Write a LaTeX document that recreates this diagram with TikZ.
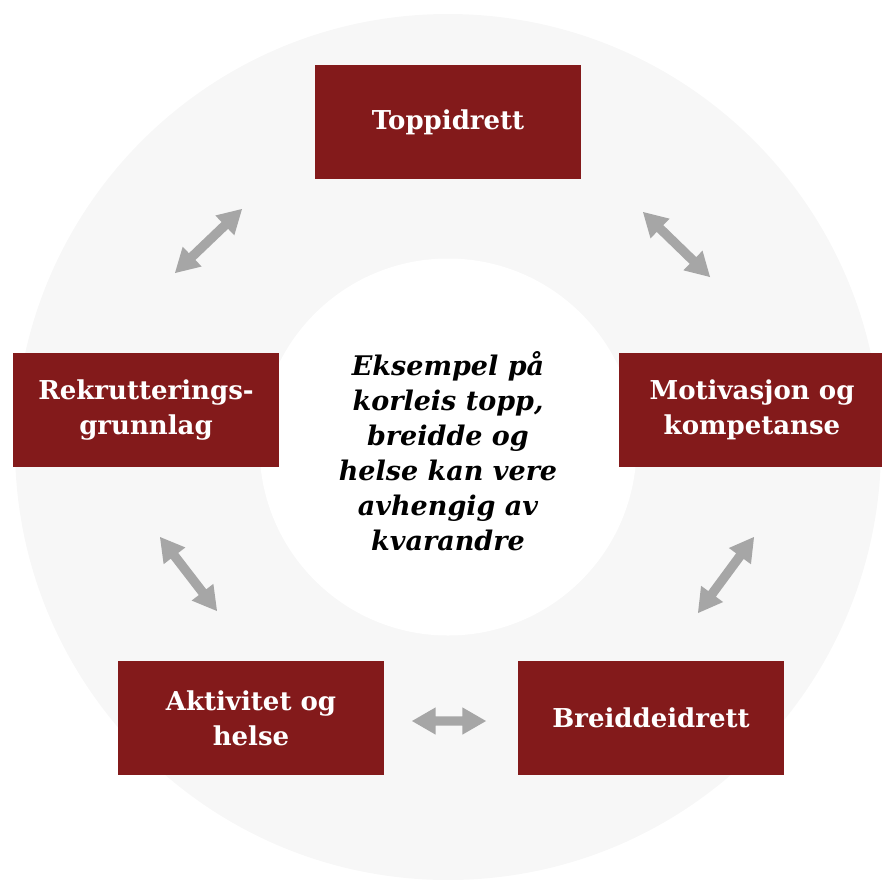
\documentclass[tikz,border=0pt]{standalone}
\usepackage{fontspec}
\setmainfont{DejaVu Serif}
\usetikzlibrary{calc,shapes.arrows}
\definecolor{tred}{HTML}{831A1B}
\definecolor{ringgray}{HTML}{F7F7F7}
\definecolor{arrgray}{HTML}{A6A6A6}
\tikzset{
  box/.style={rectangle, fill=tred, draw=none, minimum width=266pt, minimum height=114pt,
    text=white, align=center, inner sep=0pt, font=\fontsize{26}{35}\selectfont\bfseries},
  dblarr/.style={double arrow, fill=arrgray, draw=none, inner xsep=0pt, inner ysep=4.5pt,
    minimum width=0pt, double arrow head extend=9pt, double arrow tip angle=60,
    double arrow head indent=0pt},
}
\newcommand\linkarrow[2]{%
  \path let \p1=($(#2)-(#1)$), \n1={atan2(\y1,\x1)}, \n2={veclen(\x1,\y1)} in
    node[dblarr, rotate=\n1, minimum height=\n2] at ($(#1)!0.5!(#2)$) {};}
\begin{document}
\begin{tikzpicture}[x=1pt,y=-1pt]
\useasboundingbox (0,0) rectangle (882,879);
\fill[ringgray] (448,447) circle[radius=433];
\fill[white] (448,447) circle[radius=188.5];
\node[box] (top) at (448,122) {Toppidrett};
\node[box] (left) at (146,410) {Rekrutterings-\\grunnlag};
\node[box] (right) at (752,410) {Motivasjon og\\kompetanse};
\node[box] (bl) at (251,718) {Aktivitet og\\helse};
\node[box] (br) at (651,718) {Breiddeidrett};
\node[align=center, inner sep=0pt, font=\fontsize{27}{35}\selectfont\bfseries\itshape] (mid) at (448,451)
  {Eksempel på\\korleis topp,\\breidde og\\helse kan vere\\avhengig av\\kvarandre};
\coordinate (a1s) at (175,273); \coordinate (a1e) at (242,209);
\coordinate (a2s) at (643,212); \coordinate (a2e) at (710,277);
\coordinate (a3s) at (160,537); \coordinate (a3e) at (217,611);
\coordinate (a4s) at (754,537); \coordinate (a4e) at (698,613);
\coordinate (a5s) at (412,721); \coordinate (a5e) at (486,721);
\linkarrow{a1s}{a1e}
\linkarrow{a2s}{a2e}
\linkarrow{a3s}{a3e}
\linkarrow{a4s}{a4e}
\linkarrow{a5s}{a5e}
\end{tikzpicture}
\end{document}
